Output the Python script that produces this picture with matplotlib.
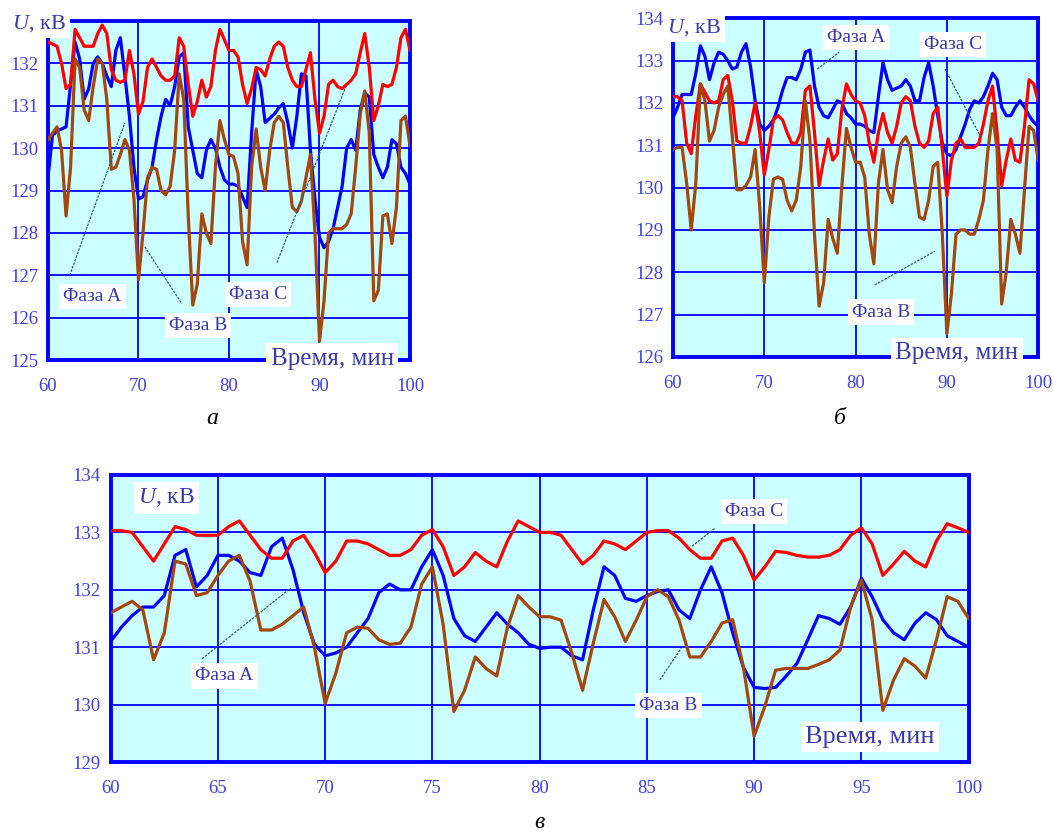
import numpy as np
import matplotlib
matplotlib.use("Agg")
import matplotlib.pyplot as plt

plt.rcParams['font.family'] = ['Liberation Serif', 'DejaVu Serif']
plt.rcParams['mathtext.fontset'] = 'custom'
plt.rcParams['mathtext.it'] = 'Liberation Serif:italic'
plt.rcParams['mathtext.rm'] = 'Liberation Serif'

# time grid, minutes (one reading every 0.5 min)
time_min = np.arange(60, 100.5, 0.5)

# panel a
a_phase_A = [129.3, 130.3, 130.4, 130.45, 130.5, 131.5, 132.5, 132.1, 131.15, 131.4,
             132.0, 132.15, 132.0, 131.7, 131.45, 132.3, 132.6, 131.7, 130.75, 129.55,
             128.8, 128.85, 129.25, 129.55, 130.2, 130.75, 131.15, 131.0, 131.45, 132.15,
             132.25, 130.5, 129.95, 129.4, 129.3, 129.95, 130.2, 130.0, 129.55, 129.25,
             129.15, 129.15, 129.1, 128.85, 128.6, 130.35, 131.85, 131.45, 130.6, 130.7,
             130.8, 130.95, 131.05, 130.6, 130.0, 130.75, 131.75, 131.7, 129.95, 128.8,
             127.9, 127.65, 127.8, 128.1, 128.6, 129.1, 130.0, 130.2, 129.95, 130.9,
             131.3, 131.2, 129.85, 129.55, 129.3, 129.55, 130.2, 130.1, 129.55, 129.4,
             129.15]
a_phase_B = [130.2, 130.35, 130.5, 129.95, 128.4, 129.55, 132.1, 131.9, 130.9, 130.65,
             131.45, 132.1, 132.0, 131.15, 129.5, 129.55, 129.85, 130.2, 129.95, 128.8,
             126.9, 128.0, 129.3, 129.55, 129.5, 129.0, 128.9, 129.1, 129.95, 131.75,
             131.15, 128.4, 126.3, 126.8, 128.45, 128.0, 127.75, 129.55, 130.65, 130.2,
             129.85, 129.8, 129.4, 127.8, 127.25, 129.55, 130.45, 129.55, 129.0, 129.95,
             130.6, 130.75, 130.6, 129.55, 128.6, 128.5, 128.75, 129.3, 129.85, 128.0,
             125.45, 126.4, 128.0, 128.1, 128.1, 128.1, 128.2, 128.45, 129.55, 130.8,
             131.35, 130.35, 126.4, 126.65, 128.4, 128.45, 127.75, 128.6, 130.65, 130.75,
             130.05]
a_phase_C = [132.5, 132.45, 132.4, 132.0, 131.4, 131.5, 132.8, 132.6, 132.4, 132.4,
             132.4, 132.7, 132.9, 132.7, 131.85, 131.6, 131.55, 131.6, 132.3, 131.75,
             130.8, 131.1, 131.9, 132.1, 131.9, 131.7, 131.6, 131.6, 131.7, 132.6,
             132.4, 131.5, 130.75, 131.1, 131.6, 131.2, 131.45, 132.3, 132.8, 132.55,
             132.3, 132.3, 132.15, 131.5, 131.05, 131.4, 131.9, 131.85, 131.7, 132.1,
             132.4, 132.5, 132.4, 131.9, 131.6, 131.45, 131.45, 131.85, 132.25, 131.15,
             130.35, 130.75, 131.5, 131.6, 131.45, 131.4, 131.5, 131.6, 131.75, 132.25,
             132.7, 131.9, 130.65, 131.0, 131.5, 131.45, 131.5, 131.9, 132.6, 132.8,
             132.3]

# panel б
b_phase_A = [131.65, 131.9, 132.2, 132.2, 132.2, 132.7, 133.35, 133.1, 132.55, 132.95,
             133.2, 133.15, 133.0, 132.8, 132.85, 133.2, 133.4, 132.85, 132.05, 131.5,
             131.35, 131.45, 131.6, 131.9, 132.3, 132.6, 132.6, 132.55, 132.8, 133.2,
             133.25, 132.4, 131.9, 131.7, 131.65, 131.85, 132.05, 132.0, 131.75, 131.65,
             131.5, 131.5, 131.45, 131.35, 131.3, 132.15, 132.95, 132.55, 132.3, 132.35,
             132.4, 132.55, 132.4, 132.05, 132.05, 132.6, 132.95, 132.4, 131.7, 131.05,
             130.8, 130.75, 130.9, 131.2, 131.5, 131.85, 132.05, 132.0, 132.15, 132.4,
             132.7, 132.55, 131.9, 131.7, 131.7, 131.9, 132.05, 131.9, 131.7, 131.55,
             131.45]
b_phase_B = [130.9, 130.95, 130.95, 130.1, 129.0, 130.1, 132.45, 132.05, 131.1, 131.35,
             131.9, 132.2, 132.4, 131.2, 129.95, 129.95, 130.05, 130.25, 130.9, 129.55,
             127.75, 129.3, 130.2, 130.25, 130.2, 129.7, 129.45, 129.7, 130.5, 132.05,
             131.1, 128.9, 127.2, 127.75, 129.25, 128.8, 128.45, 130.05, 131.4, 130.95,
             130.6, 130.6, 130.25, 128.9, 128.2, 130.1, 130.9, 129.95, 129.65, 130.5,
             131.05, 131.2, 130.95, 130.1, 129.3, 129.25, 129.7, 130.5, 130.6, 128.9,
             126.55, 127.5, 128.9, 129.0, 129.0, 128.9, 128.9, 129.25, 129.7, 130.9,
             131.75, 130.9, 127.25, 128.0, 129.25, 128.9, 128.45, 129.95, 131.45, 131.35,
             130.65]
b_phase_C = [132.15, 132.15, 132.05, 131.05, 130.8, 131.7, 132.45, 132.25, 132.05, 132.0,
             132.05, 132.55, 132.65, 132.05, 131.1, 131.05, 131.05, 131.45, 132.0, 131.3,
             130.3, 130.9, 131.6, 131.7, 131.6, 131.3, 131.05, 131.05, 131.3, 132.3,
             132.4, 131.3, 130.05, 130.65, 131.15, 130.65, 130.8, 131.85, 132.45, 132.2,
             132.05, 132.0, 131.7, 131.05, 130.6, 131.3, 131.75, 131.3, 131.05, 131.45,
             132.0, 132.15, 132.05, 131.45, 131.05, 130.95, 131.1, 131.75, 131.9, 130.9,
             129.8, 130.65, 131.05, 131.15, 130.95, 130.95, 130.95, 131.05, 131.5, 132.05,
             132.4, 131.3, 130.05, 130.65, 131.15, 130.65, 130.6, 131.45, 132.55, 132.45,
             132.05]

# panel в
c_phase_A = [131.1, 131.35, 131.55, 131.7, 131.7, 131.9, 132.6, 132.7, 132.05, 132.25,
             132.6, 132.6, 132.5, 132.3, 132.25, 132.75, 132.9, 132.35, 131.6, 131.05,
             130.85, 130.9, 131.0, 131.25, 131.5, 131.95, 132.1, 132.0, 132.0, 132.4,
             132.7, 132.25, 131.5, 131.2, 131.1, 131.35, 131.6, 131.4, 131.25, 131.05,
             130.98, 131.0, 131.0, 130.85, 130.78, 131.65, 132.4, 132.25, 131.85, 131.8,
             131.9, 131.97, 132.0, 131.65, 131.5, 132.0, 132.4, 131.95, 131.25, 130.65,
             130.3, 130.28, 130.3, 130.5, 130.72, 131.13, 131.55, 131.5, 131.4, 131.7,
             132.2, 131.88, 131.48, 131.25, 131.13, 131.42, 131.6, 131.48, 131.2, 131.1,
             131.0]
c_phase_B = [131.6, 131.7, 131.8, 131.65, 130.78, 131.25, 132.5, 132.45, 131.9, 131.95,
             132.25, 132.5, 132.6, 132.15, 131.3, 131.3, 131.4, 131.55, 131.7, 131.0,
             130.02, 130.55, 131.25, 131.35, 131.33, 131.13, 131.05, 131.07, 131.35, 132.1,
             132.4, 131.4, 129.88, 130.25, 130.83, 130.63, 130.5, 131.35, 131.9, 131.7,
             131.53, 131.53, 131.47, 130.9, 130.25, 131.07, 131.83, 131.53, 131.1, 131.47,
             131.88, 132.0, 131.88, 131.47, 130.83, 130.83, 131.1, 131.42, 131.48, 130.65,
             129.45, 129.97, 130.6, 130.63, 130.63, 130.63, 130.7, 130.78, 130.95, 131.7,
             132.17, 131.48, 129.9, 130.43, 130.8, 130.67, 130.46, 131.13, 131.88, 131.8,
             131.5]
c_phase_C = [133.03, 133.03, 133.0, 132.75, 132.5, 132.8, 133.1, 133.05, 132.95, 132.95,
             132.95, 133.1, 133.2, 132.95, 132.7, 132.55, 132.55, 132.85, 132.95, 132.65,
             132.3, 132.5, 132.85, 132.85, 132.8, 132.7, 132.6, 132.6, 132.7, 132.95,
             133.05, 132.75, 132.25, 132.4, 132.65, 132.5, 132.4, 132.85, 133.2, 133.1,
             133.0, 133.0, 132.95, 132.7, 132.45, 132.6, 132.85, 132.8, 132.7, 132.85,
             133.0, 133.03, 133.03, 132.9, 132.7, 132.55, 132.55, 132.85, 132.9, 132.6,
             132.17, 132.4, 132.67, 132.65, 132.6, 132.57, 132.57, 132.6, 132.7, 132.95,
             133.08, 132.8, 132.25, 132.45, 132.67, 132.5, 132.4, 132.85, 133.15, 133.08,
             133.0]

BLUE = '#0000ff'
RED = '#ff0000'
BROWN = '#a3470f'
LABEL = '#3a3aa8'
TICK = '#4040e0'
LEADER = '#2f6070'
BOX = dict(facecolor='white', edgecolor='none', pad=3)

fig = plt.figure(figsize=(10.54, 8.32), dpi=100)


def setup(ax, ylim, yticks, xticks):
    ax.set_facecolor('#ccffff')
    ax.set_xlim(60, 100)
    ax.set_ylim(*ylim)
    ax.set_xticks(xticks)
    ax.set_yticks(yticks)
    ax.grid(True, color=BLUE, lw=1.3)
    ax.set_axisbelow(True)
    for s in ax.spines.values():
        s.set_color(BLUE)
        s.set_linewidth(2.8)
    ax.tick_params(length=0, colors=TICK, labelsize=13.5)
    ax.tick_params(axis='x', pad=13)
    ax.tick_params(axis='y', pad=7)


def curves(ax, A, B, C):
    ax.plot(time_min, A, color=BLUE, lw=2.3, zorder=3)
    ax.plot(time_min, C, color=RED, lw=2.3, zorder=3)
    ax.plot(time_min, B, color=BROWN, lw=2.3, zorder=3)


def label(ax, x, y, s, size=14):
    ax.text(x, y, s, ha='center', va='center', fontsize=size, color=LABEL,
            bbox=BOX, zorder=6, clip_on=False)


def leader(ax, x0, y0, x1, y1):
    ax.plot([x0, x1], [y0, y1], color=LEADER, lw=0.9, ls=(0, (2, 1)), zorder=5)


# --- a ---
ax1 = fig.add_axes([0.0455, 0.567, 0.3435, 0.408])
setup(ax1, (125, 133), range(125, 133), [60, 70, 80, 90, 100])
curves(ax1, a_phase_A, a_phase_B, a_phase_C)
leader(ax1, 62.4, 127.0, 68.5, 130.6)
leader(ax1, 70.7, 127.67, 74.8, 126.33)
leader(ax1, 85.3, 127.3, 93.0, 131.5)
label(ax1, 64.9, 126.5, 'Фаза A')
label(ax1, 76.6, 125.82, 'Фаза B')
label(ax1, 83.2, 126.54, 'Фаза C')
label(ax1, 59.0, 132.94, '$U$, кВ', 16)
label(ax1, 91.4, 125.04, 'Время, мин', 18)
fig.text(0.201, 0.497, 'а', ha='center', va='center', fontsize=17, style='italic')

# --- б ---
ax2 = fig.add_axes([0.6385, 0.571, 0.3465, 0.407])
setup(ax2, (126, 134), range(126, 135), [60, 70, 80, 90, 100])
curves(ax2, b_phase_A, b_phase_B, b_phase_C)
leader(ax2, 75.8, 132.8, 78.2, 133.2)
leader(ax2, 89.8, 132.8, 93.7, 131.2)
leader(ax2, 82.1, 127.7, 88.7, 128.5)
label(ax2, 80.05, 133.55, 'Фаза A')
label(ax2, 90.7, 133.38, 'Фаза C')
label(ax2, 82.8, 127.06, 'Фаза B')
label(ax2, 62.3, 133.78, '$U$, кВ', 16)
label(ax2, 91.1, 126.09, 'Время, мин', 18)
fig.text(0.797, 0.497, 'б', ha='center', va='center', fontsize=17, style='italic')

# --- в ---
ax3 = fig.add_axes([0.105, 0.0841, 0.814, 0.345])
setup(ax3, (129, 134), range(129, 135), range(60, 101, 5))
curves(ax3, c_phase_A, c_phase_B, c_phase_C)
leader(ax3, 64.26, 130.8, 68.4, 132.03)
leader(ax3, 87.1, 132.76, 88.2, 133.08)
leader(ax3, 85.6, 130.43, 86.6, 130.98)
label(ax3, 65.3, 130.5, 'Фаза A')
label(ax3, 90.0, 133.36, 'Фаза C')
label(ax3, 86.0, 129.98, 'Фаза B')
label(ax3, 62.6, 133.6, '$U$, кВ', 17)
label(ax3, 95.4, 129.44, 'Время, мин', 19)
fig.text(0.512, 0.012, 'в', ha='center', va='center', fontsize=17, style='italic')

fig.savefig('out.png', dpi=100)
